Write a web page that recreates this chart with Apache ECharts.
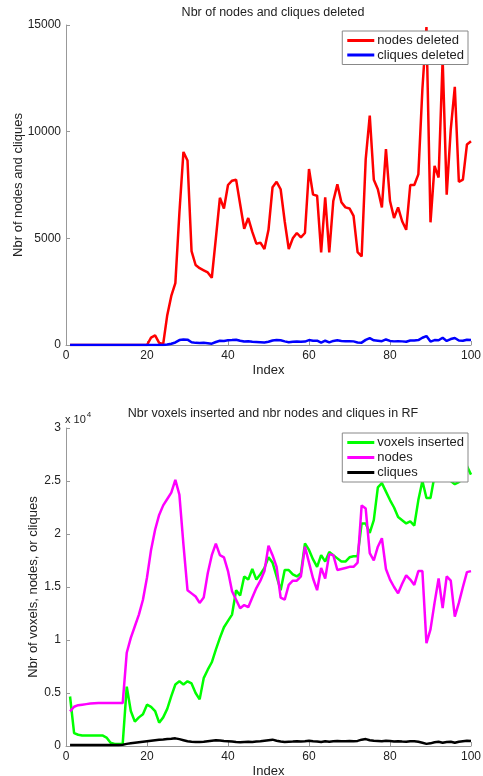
<!DOCTYPE html>
<html>
<head>
<meta charset="utf-8">
<style>
  html, body { margin: 0; padding: 0; background: #fff; }
  #main { width: 483px; height: 776px; }
</style>
<script src="https://cdn.jsdelivr.net/npm/echarts@6/dist/echarts.min.js"></script>
</head>
<body>
<div id="main"></div>
<script>
// values, index 1..100
var nodesDeleted = [
  0, 0, 0, 0, 0, 0, 0, 0, 0, 0,
  0, 0, 0, 0, 0, 0, 0, 0, 0, 0,
  350, 450, 100, 50, 1400, 2300, 2900, 6200, 9050, 8650,
  4400, 3750, 3600, 3500, 3400, 3150, 5000, 6900, 6400, 7500,
  7700, 7750, 6600, 5450, 5950, 5300, 4750, 4800, 4500, 5400,
  7400, 7650, 7300, 5800, 4500, 5000, 5250, 5050, 5250, 8250,
  7050, 7000, 4340, 6920, 4340, 6750, 7530, 6690, 6450, 6400,
  6050, 4350, 4150, 8700, 10750, 7750, 7300, 6450, 9180, 6750,
  5950, 6450, 5800, 5400, 7500, 7500, 8000, 12000, 14900, 5750,
  8400, 7850, 13400, 7050, 10100, 12100, 7650, 7750, 9400, 9550
];
var cliquesDeleted = [
  0, 0, 0, 0, 0, 0, 0, 0, 0, 0,
  0, 0, 0, 0, 0, 0, 0, 0, 0, 0,
  0, 0, 0, 0, 20, 60, 120, 230, 260, 250,
  130, 100, 90, 100, 80, 60, 140, 200, 190, 220,
  230, 250, 200, 160, 180, 150, 140, 130, 120, 150,
  210, 230, 220, 170, 130, 150, 160, 150, 160, 230,
  200, 200, 110, 200, 120, 190, 220, 190, 180, 180,
  170, 120, 110, 240, 320, 220, 200, 180, 260, 190,
  170, 180, 170, 150, 210, 210, 230, 340, 420, 160,
  230, 220, 340, 190, 280, 330, 210, 200, 250, 240
];
var voxelsInserted = [
  4670, 1220, 1060, 1000, 1000, 1000, 1000, 1000, 1000, 800,
  300, 200, 200, 200, 5600, 3300, 2300, 2700, 3000, 3900,
  3700, 3300, 2200, 2700, 3500, 4700, 5800, 6100, 5800, 6100,
  5900, 5000, 4400, 6400, 7200, 7900, 9100, 10200, 11200, 11800,
  12400, 14700, 14200, 16000, 15700, 16700, 15700, 16200, 16800, 17800,
  17300, 16000, 14700, 16600, 16600, 16200, 16000, 16300, 19100, 18500,
  17600, 16900, 18000, 17400, 18300, 18000, 17700, 17400, 17400, 17800,
  17900, 17900, 21000, 21000, 20100, 21300, 24400, 24800, 24000, 23200,
  22500, 21600, 21300, 21000, 21200, 20800, 23200, 25000, 23400, 23400,
  25500, 27000, 26500, 26000, 25000, 24700, 24900, 25200, 26400, 25600
];
var nodesRF = [
  3260, 3700, 3850, 3900, 3950, 4000, 4030, 4050, 4050, 4050,
  4050, 4050, 4050, 4050, 8800, 10200, 11300, 12400, 13800, 15900,
  18500, 20400, 21800, 22700, 23300, 23900, 25100, 23700, 19000, 14700,
  14400, 14100, 13500, 14000, 16300, 18000, 19100, 18000, 17800, 16500,
  14600, 13800, 13000, 13300, 13100, 14000, 14900, 15600, 16500, 18900,
  18000, 16900, 14000, 13800, 15200, 15600, 15600, 16000, 18800, 17300,
  15800, 14700, 16800, 15800, 18100, 18000, 16600, 16700, 16800, 16900,
  16900, 17300, 22700, 22400, 18200, 17500, 18800, 19600, 16700, 15700,
  15000, 14400, 15300, 16100, 15700, 15200, 16500, 16500, 9700, 11000,
  13500, 15800, 13000, 16000, 15600, 12200, 13500, 15000, 16400, 16500
];
var cliquesRF = [
  100, 100, 100, 100, 100, 100, 100, 100, 100, 100,
  100, 100, 100, 120, 200, 250, 300, 350, 400, 450,
  500, 550, 600, 620, 650, 680, 720, 650, 550, 450,
  400, 380, 370, 400, 450, 500, 550, 520, 480, 450,
  420, 380, 350, 380, 400, 380, 420, 450, 500, 550,
  600, 500, 420, 380, 400, 420, 450, 420, 450, 500,
  450, 430, 380, 450, 400, 450, 480, 450, 450, 470,
  450, 480, 600, 650, 550, 500, 480, 450, 500, 480,
  420, 450, 420, 400, 450, 450, 400, 300, 200, 250,
  350, 400, 300, 380, 400, 300, 400, 450, 500, 480
];
var topTicks = [0, 5000, 10000, 15000];
var bottomTicks = [0, 0.5, 1, 1.5, 2, 2.5, 3];

function pairs(arr) {
  return arr.map(function (v, i) { return [i + 1, v]; });
}

var txt = '#222';
var font = 'Liberation Sans, Arial, sans-serif';

function xAxis(gridIndex) {
  return {
    gridIndex: gridIndex,
    type: 'value',
    min: 0, max: 100, interval: 20,
    name: 'Index',
    nameLocation: 'middle',
    nameGap: 19,
    nameTextStyle: { color: txt, fontSize: 13, fontFamily: font },
    axisLine: { lineStyle: { color: '#999' } },
    axisTick: { inside: true, length: 4, lineStyle: { color: '#999' } },
    axisLabel: { color: txt, fontSize: 12, fontFamily: font, margin: 5 },
    splitLine: { show: false }
  };
}

function yAxis(gridIndex, max, name, gap, fmt) {
  return {
    gridIndex: gridIndex,
    type: 'value',
    min: 0, max: max, interval: 5000,
    name: name,
    nameLocation: 'middle',
    nameGap: gap,
    nameMoveOverlap: false,
    nameTextStyle: { color: txt, fontSize: 13, fontFamily: font },
    axisLine: { show: true, lineStyle: { color: '#999' } },
    axisTick: { show: true, inside: true, length: 4, lineStyle: { color: '#999' } },
    axisLabel: { color: txt, fontSize: 12, fontFamily: font, margin: 5, formatter: fmt },
    splitLine: { show: false }
  };
}

function line(name, data, color, x, y) {
  return {
    name: name,
    type: 'line',
    xAxisIndex: x, yAxisIndex: y,
    data: pairs(data),
    showSymbol: false,
    symbol: 'none',
    lineStyle: { color: color, width: 2.5 },
    itemStyle: { color: color },
    z: 2
  };
}

function legend(items, top, gap) {
  return {
    data: items,
    orient: 'vertical',
    right: 15,
    top: top,
    icon: 'rect',
    itemWidth: 27,
    itemHeight: 3,
    itemGap: gap,
    padding: [3, 4, 3, 5],
    backgroundColor: '#fff',
    borderColor: '#888',
    borderWidth: 1,
    borderRadius: 0,
    selectedMode: false,
    textStyle: { color: txt, fontSize: 13, fontFamily: font, padding: [0, 0, 0, -2] },
    z: 10
  };
}

var chart = echarts.init(document.getElementById('main'));
chart.setOption({
  animation: false,
  backgroundColor: '#fff',
  title: [
    { text: 'Nbr of nodes and cliques deleted', left: 268, top: 1, textAlign: 'center',
      textStyle: { color: txt, fontSize: 12.5, fontWeight: 'normal', fontFamily: font } },
    { text: 'Nbr voxels inserted and nbr nodes and cliques in RF', left: 268, top: 402, textAlign: 'center',
      textStyle: { color: txt, fontSize: 12.5, fontWeight: 'normal', fontFamily: font } }
  ],
  graphic: [{
    type: 'text',
    left: 65, top: 411,
    style: {
      text: '{a|x 10}{b|4}',
      rich: {
        a: { fontSize: 11, fill: txt, fontFamily: font, verticalAlign: 'bottom' },
        b: { fontSize: 8, fill: txt, fontFamily: font, verticalAlign: 'top', padding: [0, 0, 6, 1] }
      }
    }
  }],
  grid: [
    { left: 66, right: 12, top: 25, height: 320, containLabel: false, outerBoundsMode: 'none' },
    { left: 66, right: 12, top: 428, height: 318, containLabel: false, outerBoundsMode: 'none' }
  ],
  legend: [
    legend(['nodes deleted', 'cliques deleted'], 31, 1.5),
    legend(['voxels inserted', 'nodes', 'cliques'], 433, 2)
  ],
  xAxis: [xAxis(0), xAxis(1)],
  yAxis: [
    yAxis(0, 15000, 'Nbr of nodes and cliques', 41, function (v) { return topTicks.indexOf(v) >= 0 ? String(v) : ''; }),
    yAxis(1, 30000, 'Nbr of voxels, nodes, or cliques', 26, function (v) {
      var t = v / 10000;
      return bottomTicks.indexOf(t) >= 0 ? String(t) : '';
    })
  ],
  series: [
    line('nodes deleted', nodesDeleted, '#ff0000', 0, 0),
    line('cliques deleted', cliquesDeleted, '#0000ff', 0, 0),
    line('voxels inserted', voxelsInserted, '#00ff00', 1, 1),
    line('nodes', nodesRF, '#ff00ff', 1, 1),
    line('cliques', cliquesRF, '#000000', 1, 1)
  ]
});
</script>
</body>
</html>
